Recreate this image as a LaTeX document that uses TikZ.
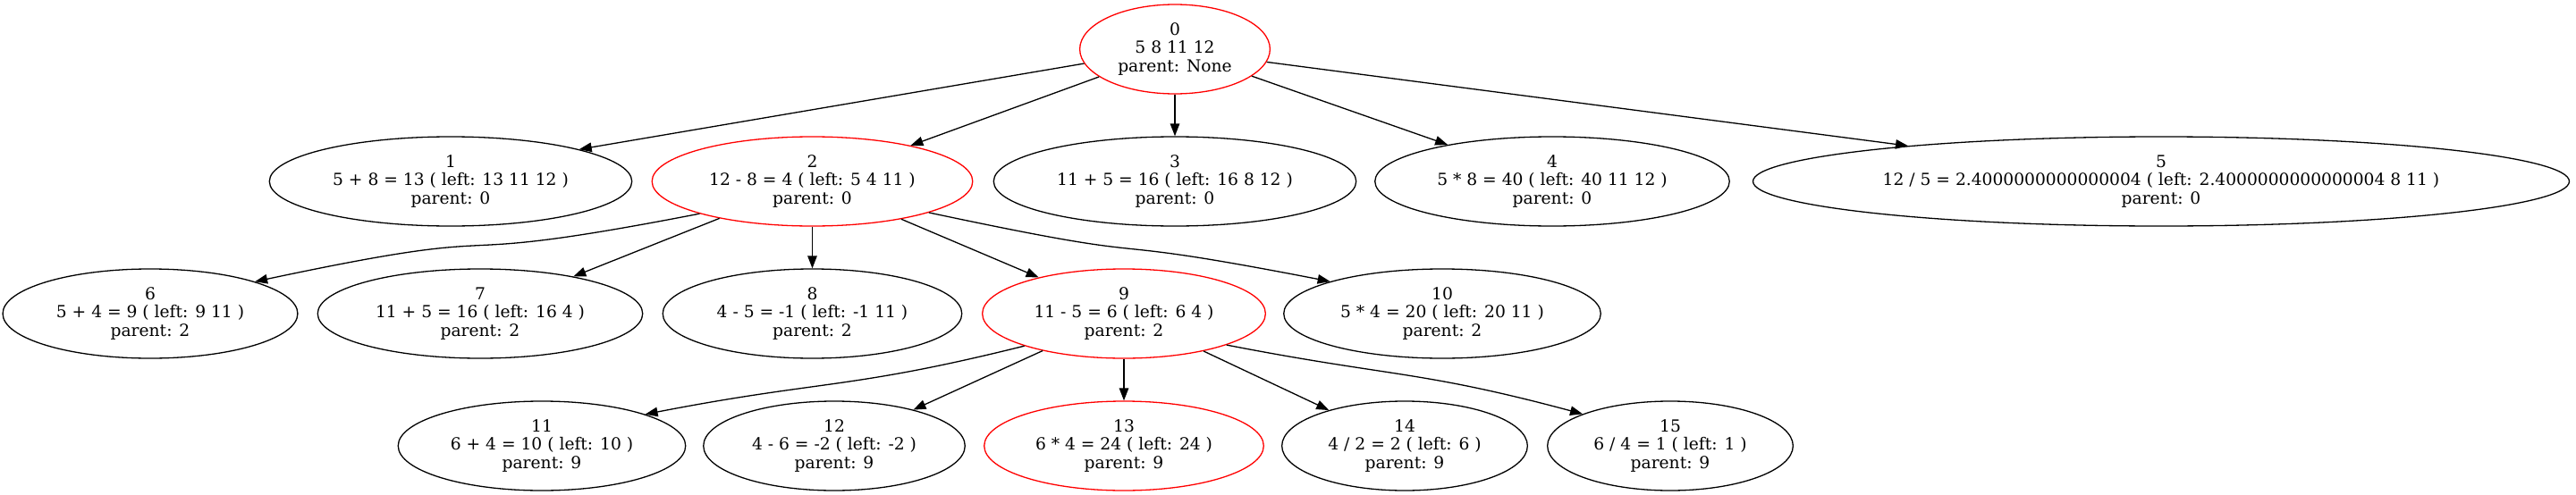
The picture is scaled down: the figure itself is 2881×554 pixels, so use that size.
\documentclass[tikz,border=0pt]{standalone}
\usepackage{fontspec}
\setmainfont{DejaVu Serif}
\usepackage{tikz}
\usetikzlibrary{shapes.geometric, arrows.meta}

\begin{document}
\begin{tikzpicture}[x=1pt, y=1pt, line width=1.3pt,
  every node/.style={ellipse,draw,align=center,
    font={\fontsize{18.67}{20.7}\selectfont},
    inner xsep=11.5pt, inner ysep=3pt, minimum height=100pt},
  hot/.style={draw=red},
  edge/.style={-{Triangle[length=14pt,width=10.5pt]}}]
\useasboundingbox (0,0) rectangle (2881,-554);
\node[hot] (n0) at (1314,-55) {0\\5 8 11 12\\parent: None};
\node (n1) at (504,-203) {1\\5 + 8 = 13 ( left: 13 11 12 )\\parent: 0};
\node[hot] (n2) at (908.5,-203) {2\\12 - 8 = 4 ( left: 5 4 11 )\\parent: 0};
\node (n3) at (1314,-203) {3\\11 + 5 = 16 ( left: 16 8 12 )\\parent: 0};
\node (n4) at (1736,-203) {4\\5 * 8 = 40 ( left: 40 11 12 )\\parent: 0};
\node (n5) at (2417,-203) {5\\12 / 5 = 2.4000000000000004 ( left: 2.4000000000000004 8 11 )\\parent: 0};
\node (n6) at (168,-351) {6\\5 + 4 = 9 ( left: 9 11 )\\parent: 2};
\node (n7) at (537,-351) {7\\11 + 5 = 16 ( left: 16 4 )\\parent: 2};
\node (n8) at (908.5,-351) {8\\4 - 5 = -1 ( left: -1 11 )\\parent: 2};
\node[hot] (n9) at (1257,-351) {9\\11 - 5 = 6 ( left: 6 4 )\\parent: 2};
\node (n10) at (1613,-351) {10\\5 * 4 = 20 ( left: 20 11 )\\parent: 2};
\node (n11) at (606,-499) {11\\6 + 4 = 10 ( left: 10 )\\parent: 9};
\node (n12) at (933,-499) {12\\4 - 6 = -2 ( left: -2 )\\parent: 9};
\node[hot] (n13) at (1257,-499) {13\\6 * 4 = 24 ( left: 24 )\\parent: 9};
\node (n14) at (1571,-499) {14\\4 / 2 = 2 ( left: 6 )\\parent: 9};
\node (n15) at (1868,-499) {15\\6 / 4 = 1 ( left: 1 )\\parent: 9};
\draw[edge] (n0.189) -- (n1.14);
\draw[edge] (n0) -- (n2);
\draw[edge] (n0) -- (n3);
\draw[edge] (n0) -- (n4);
\draw[edge] (n0.352) -- (n5.172);
\draw[edge] (n2.196) to[out=191,in=12,looseness=1.7] (n6.17);
\draw[edge] (n2) -- (n7);
\draw[edge] (n2) -- (n8);
\draw[edge] (n2) -- (n9);
\draw[edge] (n2.345) to[out=348,in=169,looseness=1.7] (n10.164);
\draw[edge] (n9.198) to[out=194,in=11,looseness=1.2] (n11.17);
\draw[edge] (n9) -- (n12);
\draw[edge] (n9) -- (n13);
\draw[edge] (n9) -- (n14);
\draw[edge] (n9.343) to[out=349,in=165,looseness=1.2] (n15.160);
\end{tikzpicture}
\end{document}
